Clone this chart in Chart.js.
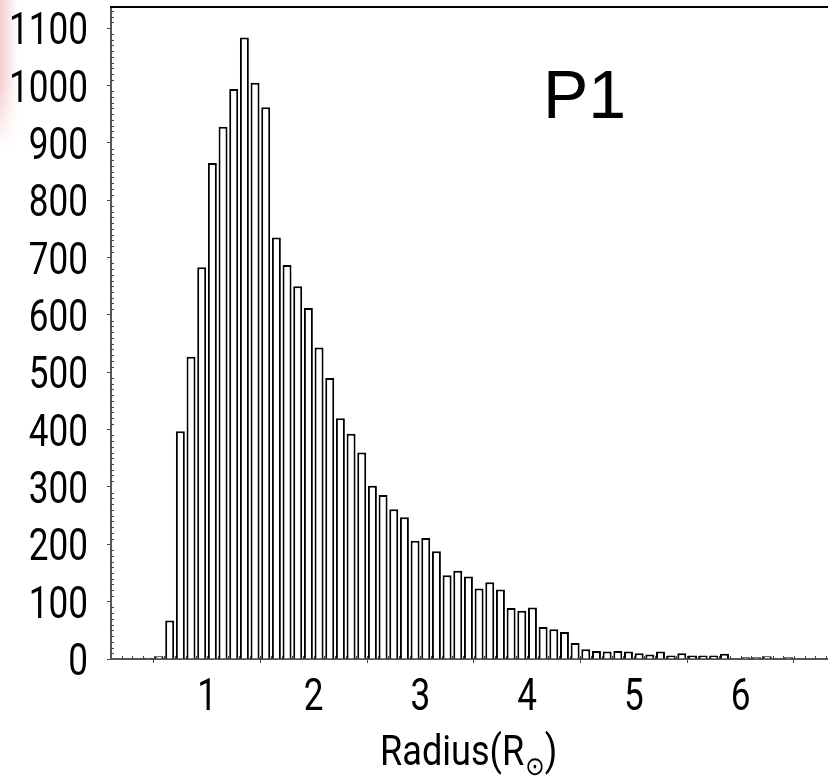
<!DOCTYPE html>
<html lang="en">
<head>
    <meta charset="UTF-8">
    <title>P1 radius histogram</title>
    <style>
        body { margin: 0; background: #fff; overflow: hidden; }
        .glow {
            position: absolute; left: 0; top: 0; width: 18px; height: 150px;
            background: linear-gradient(to right, rgba(225, 90, 95, 0.3), rgba(255, 255, 255, 0));
            -webkit-mask-image: linear-gradient(to bottom, #000 55%, transparent);
            mask-image: linear-gradient(to bottom, #000 55%, transparent);
        }
        #chart { position: absolute; left: 0; top: 0; }
    </style>
</head>
<body>
    <div class="glow"></div>
    <canvas id="chart" width="828" height="779"></canvas>

    <script src="https://cdn.jsdelivr.net/npm/chart.js"></script>
    <script>
        // bin centres (R_sun), bin width 0.1
        const radius = [0.45, 0.55, 0.65, 0.75, 0.85, 0.95, 1.05, 1.15, 1.25, 1.35,
                        1.45, 1.55, 1.65, 1.75, 1.85, 1.95, 2.05, 2.15, 2.25, 2.35,
                        2.45, 2.55, 2.65, 2.75, 2.85, 2.95, 3.05, 3.15, 3.25, 3.35,
                        3.45, 3.55, 3.65, 3.75, 3.85, 3.95, 4.05, 4.15, 4.25, 4.35,
                        4.45, 4.55, 4.65, 4.75, 4.85, 4.95, 5.05, 5.15, 5.25, 5.35,
                        5.45, 5.55, 5.65, 5.75, 5.85, 5.95, 6.05, 6.15, 6.25, 6.35,
                        6.45];
        const counts = [2, 5, 67, 397, 527, 683, 865, 928, 994, 1084,
                        1005, 962, 735, 687, 650, 612, 543, 490, 420, 393,
                        360, 302, 286, 261, 247, 206, 211, 188, 146, 154,
                        144, 123, 134, 121, 89, 84, 90, 56, 52, 47,
                        28, 17, 14, 13, 14, 13, 10, 8, 13, 6,
                        10, 6, 6, 6, 9, null, 3, 3, 5, null,
                        3];
        const xTicks = [1, 2, 3, 4, 5, 6];
        const yTicks = [0, 100, 200, 300, 400, 500, 600, 700, 800, 900, 1000, 1100];

        const labelFont = "45px Roboto, 'DejaVu Sans', sans-serif";
        const titleFont = "42px Roboto, 'DejaVu Sans', sans-serif";
        const squeeze = 0.78;

        function narrowText(ctx, text, x, y, sx) {
            ctx.save();
            ctx.translate(x, y);
            ctx.scale(sx, 1);
            ctx.fillText(text, 0, 0);
            ctx.restore();
        }

        // tick labels, minor ticks, top frame line, axis title and panel label
        const decorations = {
            id: 'decorations',
            afterDraw(chart) {
                const ctx = chart.ctx;
                const area = chart.chartArea;
                const xs = chart.scales.x;
                const ys = chart.scales.y;

                ctx.save();
                ctx.strokeStyle = '#444';
                ctx.lineWidth = 1;
                // minor y ticks, inside, every 10
                for (let v = 10; v < ys.max; v += 10) {
                    if (v % 100 === 0) continue;
                    const py = Math.round(ys.getPixelForValue(v)) + 0.5;
                    ctx.beginPath();
                    ctx.moveTo(area.left, py);
                    ctx.lineTo(area.left + 3, py);
                    ctx.stroke();
                }
                // minor x ticks, inside, every 0.1
                for (let k = 2; k < 69; k++) {
                    const px = Math.round(xs.getPixelForValue(k / 10)) + 0.5;
                    ctx.beginPath();
                    ctx.moveTo(px, area.bottom);
                    ctx.lineTo(px, area.bottom - 3);
                    ctx.stroke();
                }
                // top frame
                ctx.strokeStyle = '#000';
                ctx.lineWidth = 2;
                ctx.beginPath();
                ctx.moveTo(area.left - 1, area.top);
                ctx.lineTo(area.right, area.top);
                ctx.stroke();

                ctx.fillStyle = '#000';
                ctx.textBaseline = 'alphabetic';
                ctx.font = labelFont;

                // y tick labels
                ctx.textAlign = 'right';
                ys.ticks.forEach(t => {
                    narrowText(ctx, String(t.value), 88, ys.getPixelForValue(t.value) + 16, squeeze);
                });
                // x tick labels
                ctx.textAlign = 'center';
                xs.ticks.forEach(t => {
                    narrowText(ctx, String(t.value), xs.getPixelForValue(t.value), 710, squeeze);
                });

                // x title: Radius(R_sun)
                ctx.textAlign = 'left';
                const tsx = 0.86;
                let tx = 380;
                const base = 765;
                ctx.font = titleFont;
                narrowText(ctx, 'Radius(R', tx, base, tsx);
                tx += ctx.measureText('Radius(R').width * tsx + 1;
                ctx.font = "26px 'DejaVu Sans', sans-serif";
                narrowText(ctx, '\u2299', tx, base + 10, 0.9);
                tx += ctx.measureText('\u2299').width * 0.9;
                ctx.font = titleFont;
                narrowText(ctx, ')', tx, base, tsx);

                // panel label
                ctx.font = "68px 'Liberation Sans', Arial, sans-serif";
                ctx.fillText('P1', 543, 118);
                ctx.restore();
            }
        };

        new Chart(document.getElementById('chart'), {
            type: 'bar',
            data: {
                datasets: [{
                    data: radius.map((r, i) => ({ x: r, y: counts[i] })),
                    backgroundColor: '#fff',
                    borderColor: '#000',
                    borderWidth: 2,
                    borderSkipped: 'bottom',
                    barPercentage: 0.84,
                    categoryPercentage: 1
                }]
            },
            options: {
                responsive: false,
                animation: false,
                layout: { padding: { top: 7, right: 0, left: 0, bottom: 0 } },
                plugins: { legend: { display: false }, tooltip: { enabled: false } },
                scales: {
                    x: {
                        type: 'linear',
                        min: 0.1,
                        max: 6.82,
                        offset: false,
                        afterBuildTicks: s => { s.ticks = xTicks.map(v => ({ value: v })); },
                        afterFit: s => { s.height = 120; s.paddingLeft = 0; s.paddingRight = 0; },
                        grid: { drawOnChartArea: false, drawTicks: true, tickLength: 4, color: '#444', lineWidth: 1 },
                        border: { color: '#555', width: 2 },
                        ticks: { display: false }
                    },
                    y: {
                        min: 0,
                        max: 1137,
                        afterBuildTicks: s => { s.ticks = yTicks.map(v => ({ value: v })); },
                        afterFit: s => { s.width = 111; s.paddingTop = 0; s.paddingBottom = 0; },
                        grid: { drawOnChartArea: false, drawTicks: true, tickLength: 4, color: '#444', lineWidth: 1 },
                        border: { color: '#555', width: 2 },
                        ticks: { display: false }
                    }
                }
            },
            plugins: [decorations]
        });
    </script>
</body>
</html>
